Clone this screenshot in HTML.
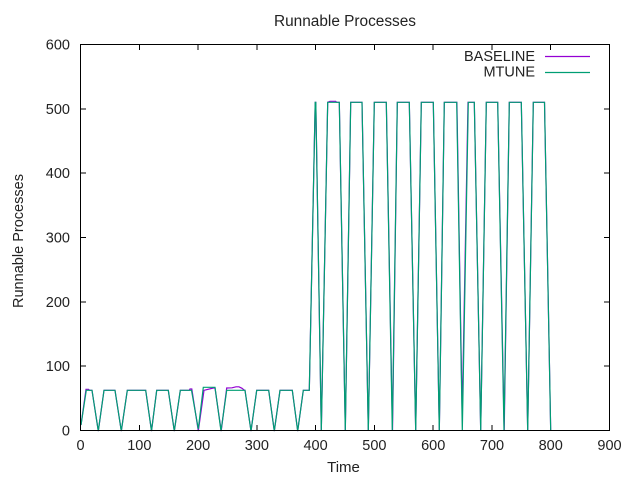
<!DOCTYPE html>
<html>
<head>
<meta charset="utf-8">
<style>
  html,body{margin:0;padding:0;background:#fff;}
  svg{display:block;}
  text{font-family:"Liberation Sans","DejaVu Sans",sans-serif;fill:#222;}
</style>
</head>
<body>
<svg width="640" height="480" viewBox="0 0 640 480" xmlns="http://www.w3.org/2000/svg">
  <rect x="0" y="0" width="640" height="480" fill="#fff"/>

  <!-- title -->
  <text x="345" y="26" font-size="15.4" text-anchor="middle" textLength="142" lengthAdjust="spacingAndGlyphs">Runnable Processes</text>

  <!-- y label -->
  <text transform="translate(23,241) rotate(-90)" x="0" y="0" font-size="15" text-anchor="middle" textLength="134" lengthAdjust="spacingAndGlyphs">Runnable Processes</text>

  <!-- x label -->
  <text x="343.5" y="472" font-size="15" text-anchor="middle">Time</text>

  <!-- y tick labels -->
  <g font-size="14.5" text-anchor="end">
    <text x="70" y="435.5">0</text>
    <text x="70" y="371.2">100</text>
    <text x="70" y="306.8">200</text>
    <text x="70" y="242.5">300</text>
    <text x="70" y="178.2">400</text>
    <text x="70" y="113.8">500</text>
    <text x="70" y="49.5">600</text>
  </g>

  <!-- x tick labels -->
  <g font-size="14.5" text-anchor="middle">
    <text x="80.5" y="450">0</text>
    <text x="139.3" y="450">100</text>
    <text x="198.1" y="450">200</text>
    <text x="256.8" y="450">300</text>
    <text x="315.6" y="450">400</text>
    <text x="374.4" y="450">500</text>
    <text x="433.2" y="450">600</text>
    <text x="492" y="450">700</text>
    <text x="550.7" y="450">800</text>
    <text x="609.5" y="450">900</text>
  </g>

  <!-- ticks -->
  <g stroke="#000" stroke-width="1" shape-rendering="crispEdges">
    <line x1="139.3" y1="430.5" x2="139.3" y2="425"/><line x1="139.3" y1="44.5" x2="139.3" y2="50"/>
    <line x1="198.1" y1="430.5" x2="198.1" y2="425"/><line x1="198.1" y1="44.5" x2="198.1" y2="50"/>
    <line x1="256.8" y1="430.5" x2="256.8" y2="425"/><line x1="256.8" y1="44.5" x2="256.8" y2="50"/>
    <line x1="315.6" y1="430.5" x2="315.6" y2="425"/><line x1="315.6" y1="44.5" x2="315.6" y2="50"/>
    <line x1="374.4" y1="430.5" x2="374.4" y2="425"/><line x1="374.4" y1="44.5" x2="374.4" y2="50"/>
    <line x1="433.2" y1="430.5" x2="433.2" y2="425"/><line x1="433.2" y1="44.5" x2="433.2" y2="50"/>
    <line x1="492" y1="430.5" x2="492" y2="425"/><line x1="492" y1="44.5" x2="492" y2="50"/>
    <line x1="550.7" y1="430.5" x2="550.7" y2="425"/><line x1="550.7" y1="44.5" x2="550.7" y2="50"/>
    <line x1="80.5" y1="366.2" x2="86" y2="366.2"/><line x1="609.5" y1="366.2" x2="604" y2="366.2"/>
    <line x1="80.5" y1="301.8" x2="86" y2="301.8"/><line x1="609.5" y1="301.8" x2="604" y2="301.8"/>
    <line x1="80.5" y1="237.5" x2="86" y2="237.5"/><line x1="609.5" y1="237.5" x2="604" y2="237.5"/>
    <line x1="80.5" y1="173.2" x2="86" y2="173.2"/><line x1="609.5" y1="173.2" x2="604" y2="173.2"/>
    <line x1="80.5" y1="108.8" x2="86" y2="108.8"/><line x1="609.5" y1="108.8" x2="604" y2="108.8"/>
  </g>

  <!-- BASELINE series -->
  <polyline fill="none" stroke="#9400d3" stroke-width="1.2" stroke-linejoin="miter"
    points="81,425 86,389.3 88.5,389.3 89.5,390.3 92,390.3 98.3,431 104,390.3 115,390.3 121.3,431 127.3,390.3 145.7,390.3 151.5,431 156.7,390.3 168.3,390.3 174.3,431 180.3,390.3 189.3,390.3 190,389 191.8,389 198.3,431 204,390.3 213.3,388 215,388 221.2,431 226.7,388 232,387.8 236,386.8 239,386.8 242,388.3 244.5,390.3 245,390.3 251,431 256.7,390.3 268.7,390.3 274.3,431 280,390.3 292.3,390.3 297.7,431 303.3,390.3 309.3,390.3 315.2,102.3 315.8,102.3 321.3,431 327.7,102.3 330,101.3 335.7,101.3 336.5,102.3 339.3,102.3 345.3,431 350.7,102.3 362,102.3 368.3,431 374.3,102.3 386.3,102.3 392.5,431 397.3,102.3 409.3,102.3 415.7,431 421.3,102.3 433.3,102.3 439.3,431 444.3,102.3 456.9,102.3 462.2,415 468,102.3 474.3,102.3 480.7,431 486.3,102.3 497.7,102.3 504.2,431 509.3,102.3 521.3,102.3 527.7,431 533.3,102.3 544.5,102.3 550.7,431"/>

  <!-- MTUNE series -->
  <polyline fill="none" stroke="#009e73" stroke-width="1.2" stroke-linejoin="miter"
    points="81,425 86.3,390.3 92,390.3 98.3,431 104,390.3 115,390.3 121.3,431 127.3,390.3 145.7,390.3 151.5,431 156.7,390.3 168.3,390.3 174.3,431 180.3,390.3 191.5,390.3 198.3,429 203.3,387.3 215,387.3 221,431 226.7,390.3 245,390.3 251,431 256.7,390.3 268.7,390.3 274.3,431 280,390.3 292.3,390.3 297.7,431 303.3,390.3 309.3,390.3 315.2,102.3 315.8,102.3 321.3,431 327.7,102.3 339.3,102.3 345.3,431 350.7,102.3 362,102.3 368.3,431 374.3,102.3 386.3,102.3 392.3,431 397.3,102.3 409.3,102.3 415.7,431 421.3,102.3 433.3,102.3 439.3,431 444.3,102.3 456.7,102.3 462.3,431 468.3,102.3 474.3,102.3 480.7,431 486.3,102.3 497.7,102.3 504,431 509.3,102.3 521.3,102.3 527.7,431 533.3,102.3 544.5,102.3 550.7,431"/>

  <!-- border -->
  <rect x="80.5" y="44.5" width="529" height="386" fill="none" stroke="#000" stroke-width="1" shape-rendering="crispEdges"/>

  <!-- legend -->
  <g font-size="14.5" text-anchor="end">
    <text x="535" y="61" textLength="71" lengthAdjust="spacingAndGlyphs">BASELINE</text>
    <text x="535" y="76.5">MTUNE</text>
  </g>
  <line x1="545" y1="56.5" x2="590" y2="56.5" stroke="#9400d3" stroke-width="1.2"/>
  <line x1="545" y1="72.5" x2="590" y2="72.5" stroke="#009e73" stroke-width="1.2"/>
</svg>
</body>
</html>
